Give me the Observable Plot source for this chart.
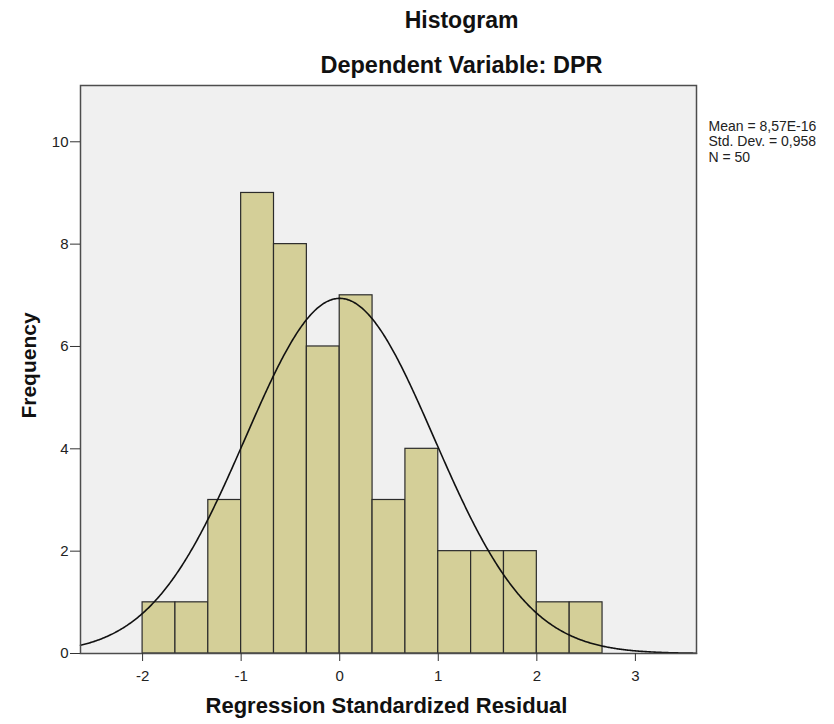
<!DOCTYPE html>
<html><head><meta charset="utf-8">
<script src="https://cdn.jsdelivr.net/npm/d3@7"></script>
<script src="https://cdn.jsdelivr.net/npm/@observablehq/plot@0.6"></script>
<style>body{margin:0;background:#fff}</style>
</head><body><div id="chart"></div>
<script>
// Histogram bins (regression standardized residual) and frequencies
const binStarts = [-2, -1.6667, -1.3333, -1, -0.6667, -0.3333, 0, 0.3333, 0.6667, 1, 1.3333, 1.6667, 2, 2.3333];
const binEnds   = [-1.6667, -1.3333, -1, -0.6667, -0.3333, 0, 0.3333, 0.6667, 1, 1.3333, 1.6667, 2, 2.3333, 2.6667];
const counts    = [1, 1, 3, 9, 8, 6, 7, 3, 4, 2, 2, 2, 1, 1];
const xTicks = [-2, -1, 0, 1, 2, 3];
const yTicks = [0, 2, 4, 6, 8, 10];
const statMean = 8.57e-16, statSD = 0.958, statN = 50;
const statLines = ["Mean = 8,57E-16", "Std. Dev. = 0,958", "N = 50"];
const titleText = "Histogram";
const subtitleText = "Dependent Variable: DPR";
const xLabel = "Regression Standardized Residual";
const yLabel = "Frequency";

const bins = binStarts.map((s, i) => ({x1: s, x2: binEnds[i], y: counts[i]}));
const xDomain = [-2.63, 3.62];
const binWidth = binEnds[0] - binStarts[0];
// fitted normal curve from the reported mean / sd / N
const curve = d3.range(xDomain[0], xDomain[1] + 0.001, 0.01).map(x => {
  const z = (x - statMean) / statSD;
  return {x, y: statN * binWidth * Math.exp(-0.5 * z * z) / (statSD * Math.sqrt(2 * Math.PI))};
});

const font = "'Liberation Sans', Arial, sans-serif";
const chart = Plot.plot({
  width: 834, height: 724,
  marginLeft: 80, marginRight: 138, marginTop: 85, marginBottom: 71,
  style: {fontFamily: font, fontSize: "15px", background: "#fff", color: "#222"},
  x: {domain: xDomain},
  y: {domain: [0, 11.1]},
  marks: [
    Plot.frame({fill: "#f0f0f0", stroke: null}),
    Plot.rectY(bins, {x1: "x1", x2: "x2", y: "y", fill: "#d4cf98", stroke: "#2b2b2b", strokeWidth: 1.2, inset: 0}),
    Plot.line(curve, {x: "x", y: "y", stroke: "#111", strokeWidth: 1.6}),
    Plot.frame({stroke: "#4d4d4d", strokeWidth: 1.5}),
    Plot.axisX({ticks: xTicks, tickFormat: d => String(d), tickSize: 8, tickPadding: 9, label: null, stroke: "#333", fill: "#222", fontSize: 15}),
    Plot.axisY({ticks: yTicks, tickFormat: d => String(d), tickSize: 10, tickPadding: 2, label: null, stroke: "#333", fill: "#222", fontSize: 15}),
    Plot.text([titleText], {frameAnchor: "top", dx: 73, dy: -65, lineAnchor: "middle", fontSize: 23, fontWeight: "bold", fill: "#111"}),
    Plot.text([subtitleText], {frameAnchor: "top", dx: 73, dy: -20, lineAnchor: "middle", fontSize: 23.5, fontWeight: "bold", fill: "#111"}),
    Plot.text([xLabel], {frameAnchor: "bottom", dx: -2, dy: 52, lineAnchor: "middle", fontSize: 22, fontWeight: "bold", fill: "#111"}),
    Plot.text([yLabel], {frameAnchor: "left", dx: -51, dy: -4, rotate: -90, textAnchor: "middle", lineAnchor: "middle", fontSize: 21, fontWeight: "bold", fill: "#111"}),
    Plot.text([statLines.join("\n")], {frameAnchor: "top-right", dx: 12, dy: 34, textAnchor: "start", lineAnchor: "top", lineHeight: 1.12, fontSize: 14, fill: "#222"})
  ]
});
document.getElementById("chart").append(chart);
</script>
</body></html>
